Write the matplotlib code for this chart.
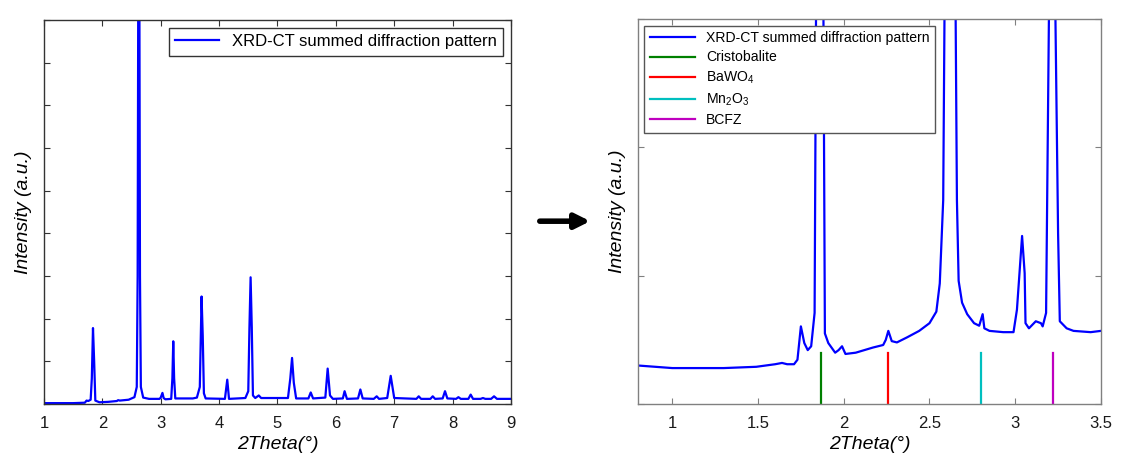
import matplotlib
matplotlib.use("Agg")
import matplotlib.pyplot as plt
from matplotlib.patches import FancyArrowPatch

plt.rcParams['font.family'] = ['Liberation Sans', 'DejaVu Sans']
plt.rcParams['mathtext.default'] = 'regular'

# full pattern (left panel)
full_x = [1.00, 1.50, 1.70, 1.73, 1.76, 1.80, 1.82, 1.84, 1.86, 1.88, 1.95, 2.10,
          2.25, 2.27, 2.30, 2.45, 2.55, 2.59, 2.605, 2.615, 2.635, 2.645, 2.66, 2.70,
          2.80, 2.98, 3.00, 3.03, 3.05, 3.08, 3.18, 3.20, 3.215, 3.23, 3.25, 3.55,
          3.62, 3.67, 3.69, 3.70, 3.72, 3.74, 3.77, 4.10, 4.14, 4.17, 4.45, 4.50,
          4.52, 4.54, 4.56, 4.58, 4.62, 4.68, 4.72, 5.18, 5.22, 5.25, 5.28, 5.32,
          5.53, 5.57, 5.61, 5.82, 5.86, 5.90, 5.95, 6.12, 6.15, 6.19, 6.38, 6.42,
          6.46, 6.65, 6.70, 6.74, 6.88, 6.94, 7.00, 7.38, 7.42, 7.46, 7.62, 7.66,
          7.70, 7.83, 7.87, 7.91, 8.06, 8.10, 8.14, 8.27, 8.31, 8.35, 8.48, 8.52,
          8.56, 8.66, 8.71, 8.76, 9.00]
full_y = [0.02, 0.02, 0.03, 0.08, 0.07, 0.10, 0.60, 1.78, 1.00, 0.08, 0.04, 0.05,
          0.07, 0.09, 0.08, 0.10, 0.16, 0.40, 3.00, 9.50, 9.50, 3.00, 0.40, 0.15,
          0.12, 0.12, 0.15, 0.26, 0.14, 0.11, 0.12, 0.60, 1.47, 0.60, 0.13, 0.13,
          0.15, 0.40, 1.80, 2.52, 1.60, 0.25, 0.13, 0.12, 0.57, 0.12, 0.14, 0.30,
          1.80, 2.97, 1.80, 0.20, 0.14, 0.20, 0.14, 0.14, 0.60, 1.08, 0.50, 0.13,
          0.13, 0.27, 0.13, 0.15, 0.83, 0.20, 0.12, 0.13, 0.30, 0.12, 0.13, 0.34,
          0.13, 0.12, 0.18, 0.12, 0.14, 0.66, 0.14, 0.12, 0.18, 0.12, 0.12, 0.18,
          0.12, 0.13, 0.30, 0.13, 0.12, 0.16, 0.12, 0.12, 0.22, 0.12, 0.12, 0.14,
          0.12, 0.12, 0.18, 0.12, 0.12]

# zoomed pattern (right panel)
zoom_x = [0.80, 1.00, 1.30, 1.49, 1.60, 1.64, 1.67, 1.71, 1.73, 1.75, 1.77, 1.79,
          1.81, 1.83, 1.84, 1.86, 1.88, 1.89, 1.91, 1.95, 1.97, 1.99, 2.01, 2.07,
          2.17, 2.23, 2.245, 2.26, 2.28, 2.31, 2.37, 2.44, 2.50, 2.54, 2.56, 2.58,
          2.59, 2.625, 2.65, 2.66, 2.67, 2.69, 2.72, 2.76, 2.79, 2.81, 2.82, 2.85,
          2.93, 2.99, 3.01, 3.04, 3.055, 3.06, 3.08, 3.12, 3.15, 3.16, 3.18, 3.20,
          3.215, 3.23, 3.25, 3.26, 3.30, 3.34, 3.44, 3.50]
zoom_y = [0.30, 0.28, 0.28, 0.29, 0.31, 0.32, 0.31, 0.31, 0.345, 0.605, 0.475, 0.42,
          0.45, 0.71, 3.50, 5.00, 3.50, 0.55, 0.475, 0.40, 0.42, 0.45, 0.39, 0.40,
          0.44, 0.46, 0.50, 0.57, 0.49, 0.48, 0.52, 0.57, 0.63, 0.72, 0.94, 1.59,
          3.50, 9.00, 3.50, 1.59, 0.96, 0.79, 0.70, 0.63, 0.61, 0.70, 0.59, 0.57,
          0.56, 0.56, 0.735, 1.31, 1.02, 0.63, 0.59, 0.645, 0.63, 0.605, 0.71, 3.50,
          5.00, 3.50, 1.33, 0.645, 0.59, 0.57, 0.56, 0.57]

phases = ['Cristobalite', 'BaWO$_4$', 'Mn$_2$O$_3$', 'BCFZ']
phase_pos = [1.866, 2.259, 2.798, 3.218]
phase_colors = ['#008000', '#ff0000', '#00bfbf', '#bf00bf']
marker_top = 0.40

fig = plt.figure(figsize=(11.24, 4.57), dpi=100)
ax1 = fig.add_axes([0.0391, 0.116, 0.4155, 0.840])
ax2 = fig.add_axes([0.5676, 0.116, 0.4119, 0.842])

ax1.plot(full_x, full_y, color='#0000ff', lw=1.6, label='XRD-CT summed diffraction pattern')
ax1.set_xlim(1, 9)
ax1.set_ylim(0, 9)
ax1.set_xticks(range(1, 10))
ax1.set_yticks(range(0, 10))
ax1.set_yticklabels([])
ax1.legend(loc='upper right', fontsize=12, fancybox=False, framealpha=1,
           edgecolor='#333333', handlelength=2.6, borderaxespad=0.45)

ax2.plot(zoom_x, zoom_y, color='#0000ff', lw=1.6, label='XRD-CT summed diffraction pattern')
for name, xp, c in zip(phases, phase_pos, phase_colors):
    ax2.plot([xp, xp], [0, marker_top], color=c, lw=1.6, label=name)
ax2.set_xlim(0.8, 3.5)
ax2.set_ylim(0, 3)
ax2.set_xticks([1, 1.5, 2, 2.5, 3, 3.5])
ax2.set_xticklabels(['1', '1.5', '2', '2.5', '3', '3.5'])
ax2.set_yticks([0, 1, 2, 3])
ax2.set_yticklabels([])
ax2.legend(loc='upper left', fontsize=10.1, fancybox=False, framealpha=1,
           edgecolor='#555555', handlelength=3.2, borderaxespad=0.45,
           labelspacing=0.38)

for ax, sc in [(ax1, '#333333'), (ax2, '#808080')]:
    for s in ax.spines.values():
        s.set_color(sc)
        s.set_linewidth(1.0)
    ax.tick_params(direction='in', top=True, right=True, length=4,
                   color=sc, labelsize=12, labelcolor='#1a1a1a')
    ax.tick_params(axis='x', pad=9)
    ax.set_xlabel('2Theta(°)', fontsize=14, style='italic', labelpad=3)
    ax.set_ylabel('Intensity (a.u.)', fontsize=14, style='italic', labelpad=5)

arrow = FancyArrowPatch((537 / 1124, 0.516), (593 / 1124, 0.516),
                        transform=fig.transFigure, arrowstyle='-|>',
                        mutation_scale=22, lw=4, color='black')
fig.add_artist(arrow)

fig.savefig('out.png', dpi=100)
